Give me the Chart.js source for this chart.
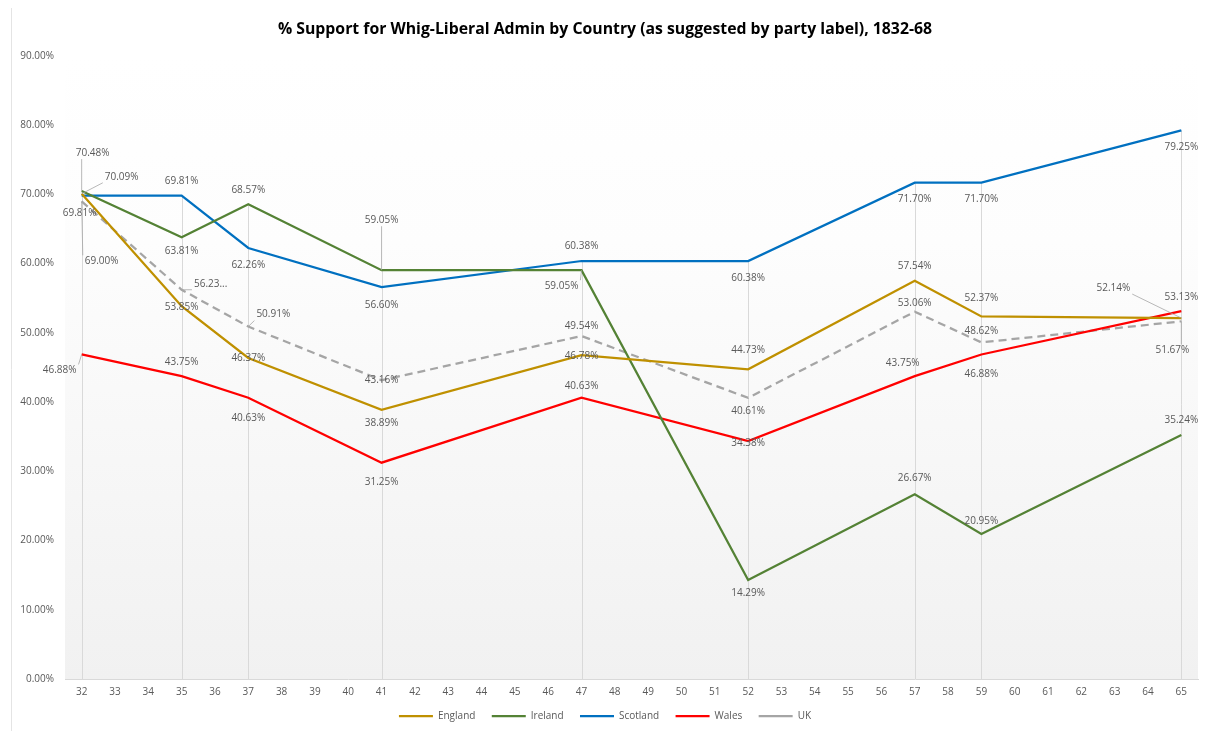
<!DOCTYPE html>
<html>
<head>
<meta charset="utf-8">
<script src="https://cdn.jsdelivr.net/npm/chart.js@4.4.0/dist/chart.umd.min.js"></script>
<style>
  html, body { margin: 0; padding: 0; background: #fff; }
  #wrap { width: 1207px; height: 731px; }
</style>
</head>
<body>
<div id="wrap"><canvas id="supportChart"></canvas></div>
<script>
// election years (two digits), every year shown on the axis
const years = [];
for (let y = 32; y <= 65; y++) years.push(String(y));

const electionYears = ['32', '35', '37', '41', '47', '52', '57', '59', '65'];

// % support at each election
const england  = [70.09, 53.85, 46.37, 38.89, 46.78, 44.73, 57.54, 52.37, 52.14];
const ireland  = [70.48, 63.81, 68.57, 59.05, 59.05, 14.29, 26.67, 20.95, 35.24];
const scotland = [69.81, 69.81, 62.26, 56.60, 60.38, 60.38, 71.70, 71.70, 79.25];
const wales    = [46.88, 43.75, 40.63, 31.25, 40.63, 34.38, 43.75, 46.88, 53.13];
const uk       = [69.00, 56.23, 50.91, 43.16, 49.54, 40.61, 53.06, 48.62, 51.67];

const yTicks = [0, 10, 20, 30, 40, 50, 60, 70, 80, 90];

// label offsets [dx, dy] from each point (placement only)
const labelOffsets = {
    England:  [[40, -17], [0, 1], [0, 0], [0, 13], [0, 1], [0, -19], [0, -15], [0, -18], [-68, -30]],
    Ireland:  [[11, -38], [0, 14], [0, -14], [0, -50], [-20, 16], [0, 13], [0, -16], [0, -13], [0, -15]],
    Scotland: [[-2, 17], [0, -15], [0, 17], [0, 18], [0, -15], [0, 17], [0, 17], [0, 17], [0, 17]],
    Wales:    [[-22, 16], [0, -14], [0, 20], [0, 19], [0, -12], [0, 2], [-12, -13], [0, 20], [0, -14]],
    UK:       [[20, 60], [29, -6], [25, -12], [0, 0], [0, -10], [0, 13], [0, -9], [0, -11], [-9, 29]]
};
const labelOverride = { 'UK-1': '56.23...' };

// spread the election values over the full year axis
function onAxis(values) {
    return years.map(y => {
        const i = electionYears.indexOf(y);
        return i >= 0 ? values[i] : null;
    });
}

const plotBackground = {
    id: 'plotBackground',
    beforeDraw(chart) {
        const { ctx, chartArea: a } = chart;
        const g = ctx.createLinearGradient(0, a.top, 0, a.bottom);
        g.addColorStop(0, '#ffffff');
        g.addColorStop(0.3, '#fdfdfd');
        g.addColorStop(1, '#f1f1f1');
        ctx.save();
        ctx.fillStyle = g;
        ctx.fillRect(a.left, a.top, a.right - a.left, a.bottom - a.top);
        ctx.strokeStyle = '#e4e4e4';
        ctx.lineWidth = 1;
        ctx.beginPath();
        ctx.moveTo(11.5, 8);
        ctx.lineTo(11.5, chart.height);
        ctx.stroke();
        ctx.restore();
    }
};

// drop lines from the highest point at each election down to the axis
const dropLines = {
    id: 'dropLines',
    beforeDatasetsDraw(chart) {
        const { ctx, scales } = chart;
        ctx.save();
        ctx.strokeStyle = '#d9d9d9';
        ctx.lineWidth = 1;
        years.forEach((y, i) => {
            let max = null;
            chart.data.datasets.forEach(ds => {
                const v = ds.data[i];
                if (v !== null && (max === null || v > max)) max = v;
            });
            if (max === null) return;
            const x = Math.round(scales.x.getPixelForValue(i)) + 0.5;
            ctx.beginPath();
            ctx.moveTo(x, scales.y.getPixelForValue(max));
            ctx.lineTo(x, scales.y.getPixelForValue(0));
            ctx.stroke();
        });
        ctx.restore();
    }
};

const pointLabels = {
    id: 'pointLabels',
    afterDatasetsDraw(chart) {
        const { ctx } = chart;
        ctx.save();
        ctx.font = '10px "Open Sans"';
        ctx.textAlign = 'center';
        ctx.textBaseline = 'middle';
        chart.data.datasets.forEach((ds, di) => {
            const meta = chart.getDatasetMeta(di);
            let k = 0;
            ds.data.forEach((v, i) => {
                if (v === null) return;
                const pt = meta.data[i];
                const off = labelOffsets[ds.label][k];
                const text = labelOverride[ds.label + '-' + k] || v.toFixed(2) + '%';
                const lx = pt.x + off[0];
                const ly = pt.y + off[1];
                const w = ctx.measureText(text).width;
                const h = 12;
                if (Math.hypot(off[0], off[1]) > 24) {
                    const nx = Math.max(lx - w / 2 - 2, Math.min(pt.x, lx + w / 2 + 2));
                    const ny = Math.max(ly - h / 2, Math.min(pt.y, ly + h / 2));
                    ctx.strokeStyle = '#a6a6a6';
                    ctx.lineWidth = 0.8;
                    ctx.beginPath();
                    ctx.moveTo(pt.x, pt.y);
                    ctx.lineTo(nx, ny);
                    ctx.stroke();
                }
                ctx.fillStyle = '#595959';
                ctx.fillText(text, lx, ly);
                k++;
            });
        });
        ctx.restore();
    }
};

function series(label, values, color, dash) {
    return {
        label: label,
        data: onAxis(values),
        borderColor: color,
        backgroundColor: color,
        borderWidth: 2.25,
        borderDash: dash || [],
        pointRadius: 0,
        pointHoverRadius: 0,
        tension: 0,
        spanGaps: true
    };
}

const ctx = document.getElementById('supportChart').getContext('2d');
const supportChart = new Chart(ctx, {
    type: 'line',
    data: {
        labels: years,
        datasets: [
            series('England', england, '#bf9000'),
            series('Ireland', ireland, '#548235'),
            series('Scotland', scotland, '#0070c0'),
            series('Wales', wales, '#ff0000'),
            series('UK', uk, '#a5a5a5', [8, 5])
        ]
    },
    options: {
        responsive: true,
        maintainAspectRatio: false,
        animation: false,
        layout: { padding: { left: 12, right: 9, top: 0, bottom: 0 } },
        plugins: {
            title: {
                display: true,
                text: '% Support for Whig-Liberal Admin by Country (as suggested by party label), 1832-68',
                color: '#000000',
                font: { family: '"Open Sans"', size: 15.8, weight: 'bold' },
                padding: { top: 20, bottom: 17 }
            },
            legend: {
                position: 'bottom',
                labels: {
                    usePointStyle: true,
                    pointStyle: 'line',
                    pointStyleWidth: 34,
                    color: '#595959',
                    font: { family: '"Open Sans"', size: 10 },
                    padding: 6,
                    boxHeight: 10,
                    // widen the gap between legend entries
                    generateLabels(chart) {
                        const items = Chart.defaults.plugins.legend.labels.generateLabels(chart);
                        items.forEach((it, i) => {
                            if (i < items.length - 1) it.text = it.text + '    ';
                        });
                        return items;
                    }
                }
            },
            tooltip: { enabled: false }
        },
        scales: {
            x: {
                offset: true,
                grid: { display: false, drawTicks: false },
                border: { display: true, color: '#d9d9d9' },
                ticks: {
                    color: '#595959',
                    font: { family: '"Open Sans"', size: 10 },
                    maxRotation: 0,
                    autoSkip: false,
                    padding: 7
                }
            },
            y: {
                min: 0,
                max: 90,
                afterFit(scale) { scale.width = 53; },
                afterBuildTicks(scale) { scale.ticks = yTicks.map(v => ({ value: v })); },
                grid: { display: false, drawTicks: false },
                border: { display: false },
                ticks: {
                    color: '#595959',
                    font: { family: '"Open Sans"', size: 10 },
                    padding: 11,
                    callback: v => v.toFixed(2) + '%'
                }
            }
        }
    },
    plugins: [plotBackground, dropLines, pointLabels]
});
</script>
</body>
</html>
